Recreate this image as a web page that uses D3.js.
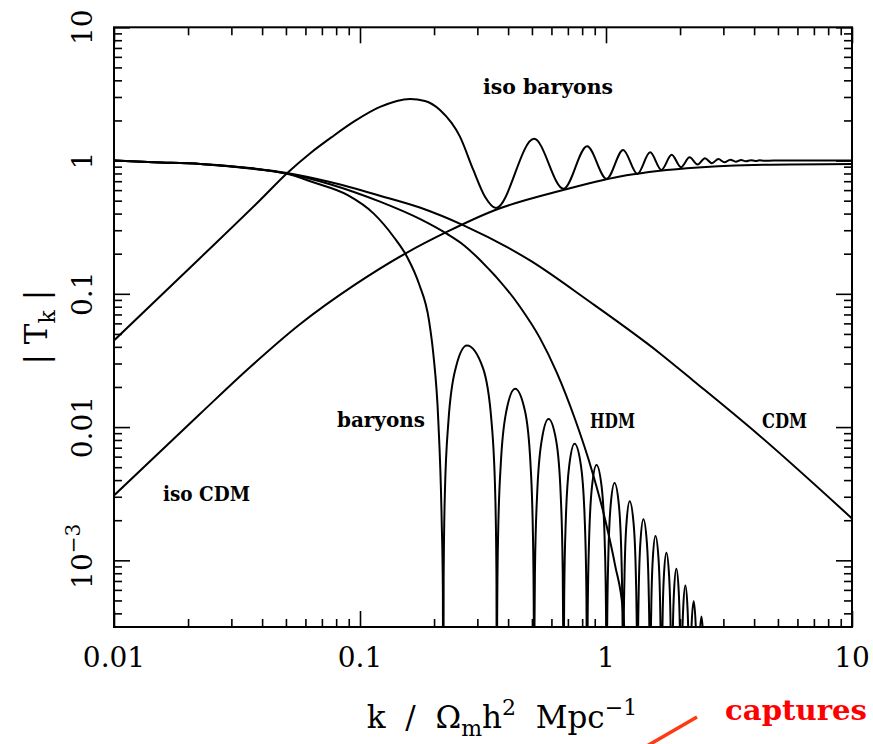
<!DOCTYPE html>
<html>
<head>
<meta charset="utf-8">
<script src="https://cdn.jsdelivr.net/npm/d3@7"></script>
<style>
  body { margin: 0; background: #fff; }
  svg { display: block; font-family: 'DejaVu Serif', serif; }
  text { white-space: pre; }
</style>
</head>
<body>
<svg id="plot" width="873" height="744"></svg>
<script>
// transfer functions |T_k|, k in Omega_m h^2 Mpc^-1
var cdmK = [0.01, 0.0145, 0.0224, 0.0357, 0.0505, 0.0755, 0.1205, 0.175, 0.265, 0.491, 0.845, 1.658, 2.258, 4.11, 10];
var cdmT = [1, 0.971, 0.943, 0.878, 0.806, 0.69, 0.545, 0.444, 0.325, 0.178, 0.089, 0.0357, 0.0224, 0.00895, 0.00206];

var hdmK = [0.01, 0.0145, 0.0224, 0.0357, 0.0505, 0.0755, 0.1206, 0.175, 0.2258, 0.265, 0.3075, 0.447, 0.539, 0.6303, 0.748, 0.875, 0.9906, 1.088, 1.176, 1.2285];
var hdmT = [1, 0.971, 0.943, 0.876, 0.800, 0.665, 0.4915, 0.3646, 0.2813, 0.2307, 0.1795, 0.08, 0.0465, 0.02575, 0.01149, 0.00477, 0.002045, 0.000924, 0.00039, 0.0001];

var baryonK = [
  0.01, 0.0145, 0.0224, 0.0357, 0.0505, 0.065, 0.0888, 0.114, 0.1374, 0.1557, 0.1737, 0.1908, 0.1986, 0.2081, 0.2148, 0.2172,
  0.218,
  0.2188, 0.2212, 0.2288, 0.245, 0.272, 0.316, 0.3424, 0.3547, 0.3587,
  0.360,
  0.3610, 0.3640, 0.3734, 0.3935, 0.427, 0.4685, 0.4934, 0.5050, 0.5088,
  0.510,
  0.5111, 0.5144, 0.5248, 0.547, 0.584, 0.628, 0.6544, 0.6667, 0.6707,
  0.672,
  0.6731, 0.6764, 0.6866, 0.7085, 0.745, 0.7915, 0.8194, 0.8324, 0.8366,
  0.838,
  0.8392, 0.8426, 0.8534, 0.8765, 0.915, 0.9605, 0.9878, 1.0005, 1.0046,
  1.006,
  1.0072, 1.0106, 1.0214, 1.0445, 1.083, 1.1285, 1.1558, 1.1685, 1.1726,
  1.174,
  1.1784, 1.1888, 1.211, 1.248, 1.295, 1.3232, 1.3364,
  1.342,
  1.3466, 1.3574, 1.3805, 1.419, 1.465, 1.4926, 1.5055,
  1.511,
  1.5157, 1.5266, 1.55, 1.589, 1.6345, 1.6618, 1.6745,
  1.680,
  1.6848, 1.696, 1.72, 1.760, 1.8045, 1.8312, 1.8437,
  1.849,
  1.854, 1.8656, 1.8905, 1.932, 1.975, 2.0008, 2.0128,
  2.018,
  2.023, 2.0348, 2.06, 2.102, 2.1445, 2.17, 2.1819,
  2.187,
  2.1921, 2.204, 2.2295, 2.272, 2.314, 2.3392, 2.351,
  2.356,
  2.3613, 2.3736, 2.4, 2.444, 2.4845, 2.5088, 2.5201,
  2.525
];
var baryonT = [
  1, 0.971, 0.943, 0.872, 0.795, 0.684, 0.552, 0.398, 0.2658, 0.188, 0.1189, 0.063, 0.0355, 0.0112, 0.00199, 0.0006,
  0.00001,
  0.000736, 0.00307, 0.01104, 0.0278, 0.0409, 0.0278, 0.01104, 0.00307, 0.000736,
  0.00001,
  0.000349, 0.001455, 0.00524, 0.01319, 0.0194, 0.01319, 0.00524, 0.001455, 0.000349,
  0.00001,
  0.000207, 0.000863, 0.003105, 0.00782, 0.0115, 0.00782, 0.003105, 0.000863, 0.000207,
  0.00001,
  0.000135, 0.000563, 0.002025, 0.0051, 0.0075, 0.0051, 0.002025, 0.000563, 0.000135,
  0.00001,
  0.0000936, 0.00039, 0.001404, 0.003536, 0.0052, 0.003536, 0.001404, 0.00039, 0.0000936,
  0.00001,
  0.0000684, 0.000285, 0.001026, 0.002584, 0.0038, 0.002584, 0.001026, 0.000285, 0.0000684,
  0.00001,
  0.000208, 0.000748, 0.001884, 0.00277, 0.001884, 0.000748, 0.000208,
  0.00001,
  0.000152, 0.000548, 0.00138, 0.00203, 0.00138, 0.000548, 0.000152,
  0.00001,
  0.000114, 0.00041, 0.001034, 0.00152, 0.001034, 0.00041, 0.000114,
  0.00001,
  0.0000855, 0.000308, 0.000775, 0.00114, 0.000775, 0.000308, 0.0000855,
  0.00001,
  0.0000649, 0.000234, 0.000588, 0.000865, 0.000588, 0.000234, 0.0000649,
  0.00001,
  0.0000486, 0.000175, 0.000441, 0.000648, 0.000441, 0.000175, 0.0000486,
  0.00001,
  0.000037, 0.000133, 0.000336, 0.000494, 0.000336, 0.000133, 0.000037,
  0.00001,
  0.0000284, 0.000102, 0.000258, 0.000379, 0.000258, 0.000102, 0.0000284,
  0.00001
];

var isoCdmK = [0.01, 0.0224, 0.0357, 0.057, 0.0954, 0.1534, 0.2264, 0.3505, 0.6706, 1.14, 2.128, 3.971, 10];
var isoCdmT = [0.00307, 0.01259, 0.02812, 0.0591, 0.1172, 0.2015, 0.2927, 0.4222, 0.6016, 0.7597, 0.8755, 0.9268, 0.943];

var isoBaryonK = [0.01, 0.0224, 0.0392, 0.0505, 0.0626, 0.0769, 0.0954, 0.1206, 0.1597, 0.1837,
  0.2114, 0.2549, 0.2888, 0.3222, 0.357, 0.510, 0.672, 0.838, 1.006, 1.174,
  1.342, 1.511, 1.680, 1.849, 2.018, 2.187, 2.356, 2.525, 2.694, 2.863,
  3.032, 3.201, 3.370, 3.539, 3.708, 3.877, 4.046, 4.215, 4.384, 4.8, 10];
var isoBaryonT = [0.0447, 0.1858, 0.5036, 0.803, 1.131, 1.503, 1.982, 2.525, 2.899, 2.801,
  2.397, 1.511, 0.850, 0.5359, 0.44, 1.455, 0.6138, 1.279, 0.7295, 1.202,
  0.7943, 1.153, 0.8511, 1.104, 0.8913, 1.059, 0.9333, 1.040, 0.955, 1.026,
  0.9705, 1.016, 0.9817, 1.009, 0.9886, 1.006, 0.9931, 1.0035, 0.9966, 1.0, 1.0];

var xMajor = [0.01, 0.1, 1, 10], xLabels = ['0.01', '0.1', '1', '10'];
var yMajor = [10, 1, 0.1, 0.01, 0.001], yLabels = ['10', '1', '0.1', '0.01', '10^\u22123'];
var curveNames = ['iso baryons', 'baryons', 'HDM', 'CDM', 'iso CDM'];

var svg = d3.select('#plot'),
    pL = 114, pR = 852, pT = 27.3, pB = 627;

var x = d3.scaleLog().domain([0.01, 10]).range([pL, pR]);
var y = d3.scaleLog().domain([0.000316, 10]).range([pB, pT]);

svg.append('defs').append('clipPath').attr('id', 'clip')
    .append('rect')
    .attr('x', pL).attr('y', pT)
    .attr('width', pR - pL).attr('height', pB - pT);

var line = d3.line()
    .x(function(d) { return x(d[0]); })
    .y(function(d) { return y(d[1]); })
    .curve(d3.curveMonotoneX);

function drawCurve(ks, ts) {
    svg.append('path')
        .datum(d3.zip(ks, ts))
        .attr('clip-path', 'url(#clip)')
        .attr('d', line)
        .attr('fill', 'none')
        .attr('stroke', 'black')
        .attr('stroke-width', 2)
        .attr('stroke-linejoin', 'round');
}

function isDecade(t) {
    var l = Math.log10(t);
    return Math.abs(l - Math.round(l)) < 1e-6;
}

function drawAxes() {
    var xMinor = x.ticks().filter(function(t) { return !isDecade(t); });
    var yMinor = y.ticks().filter(function(t) { return !isDecade(t); });

    var sides = [
        [d3.axisBottom(x), 'translate(0,' + pB + ')', xMinor, xMajor],
        [d3.axisTop(x), 'translate(0,' + pT + ')', xMinor, xMajor],
        [d3.axisLeft(y), 'translate(' + pL + ',0)', yMinor, yMajor],
        [d3.axisRight(y), 'translate(' + pR + ',0)', yMinor, yMajor]
    ];
    sides.forEach(function(s) {
        var gMaj = svg.append('g').attr('transform', s[1])
            .call(s[0].tickValues(s[3]).tickSizeInner(-16).tickSizeOuter(0).tickFormat(''));
        gMaj.select('.domain').remove();
        var gMin = svg.append('g').attr('transform', s[1])
            .call(s[0].tickValues(s[2]).tickSizeInner(-8).tickSizeOuter(0).tickFormat(''));
        gMin.select('.domain').remove();
    });
    svg.selectAll('.tick line').attr('stroke', 'black').attr('stroke-width', 1.6);

    svg.append('rect')
        .attr('x', pL).attr('y', pT)
        .attr('width', pR - pL).attr('height', pB - pT)
        .attr('fill', 'none').attr('stroke', 'black').attr('stroke-width', 2);

    xMajor.forEach(function(v, i) {
        svg.append('text')
            .attr('x', x(v)).attr('y', 667)
            .attr('text-anchor', 'middle')
            .attr('font-size', 28)
            .text(xLabels[i]);
    });

    yMajor.forEach(function(v, i) {
        var parts = yLabels[i].split('^');
        var t = svg.append('text')
            .attr('transform', 'translate(92,' + (y(v) - (parts.length > 1 ? 4 : 0)) + ') rotate(-90)')
            .attr('text-anchor', 'middle')
            .attr('font-size', 28)
            .text(parts[0]);
        if (parts.length > 1)
            t.append('tspan').attr('dy', -12).attr('font-size', 20).text(parts[1]);
    });

    // axis titles
    var yt = svg.append('text')
        .attr('transform', 'translate(47,' + ((pT + pB) / 2) + ') rotate(-90)')
        .attr('text-anchor', 'middle')
        .attr('font-size', 31);
    yt.append('tspan').text('| T');
    yt.append('tspan').attr('dy', 8).attr('font-size', 22).text('k');
    yt.append('tspan').attr('dy', -8).text(' |');

    var xt = svg.append('text')
        .attr('x', 502).attr('y', 728)
        .attr('text-anchor', 'middle')
        .attr('font-size', 31);
    xt.append('tspan').text('k  /  \u03A9');
    xt.append('tspan').attr('dy', 8).attr('font-size', 22).text('m');
    xt.append('tspan').attr('dy', -8).text('h');
    xt.append('tspan').attr('dy', -13).attr('font-size', 22).text('2');
    xt.append('tspan').attr('dy', 13).text('  Mpc');
    xt.append('tspan').attr('dy', -13).attr('font-size', 22).text('\u22121');
}

function drawLabels() {
    var spots = [[483, 94, 130], [337, 427, 88], [590, 428, 45], [762, 428, 45], [163, 501, 87]];
    curveNames.forEach(function(name, i) {
        svg.append('text')
            .attr('x', spots[i][0]).attr('y', spots[i][1])
            .attr('font-size', 20)
            .attr('font-weight', 'bold')
            .attr('textLength', spots[i][2])
            .attr('lengthAdjust', 'spacingAndGlyphs')
            .text(name);
    });
}

drawCurve(cdmK, cdmT);
drawCurve(hdmK, hdmT);
drawCurve(baryonK, baryonT);
drawCurve(isoCdmK, isoCdmT);
drawCurve(isoBaryonK, isoBaryonT);
drawAxes();
drawLabels();

// red annotation on the screenshot
svg.append('line')
    .attr('x1', 697).attr('y1', 717).attr('x2', 640).attr('y2', 750)
    .attr('stroke', '#ff3a12').attr('stroke-width', 3.5);
svg.append('text')
    .attr('x', 725).attr('y', 720)
    .attr('font-size', 28)
    .attr('font-weight', 'bold')
    .attr('fill', '#ff0000')
    .attr('textLength', 142)
    .attr('lengthAdjust', 'spacingAndGlyphs')
    .text('captures');
</script>
</body>
</html>
